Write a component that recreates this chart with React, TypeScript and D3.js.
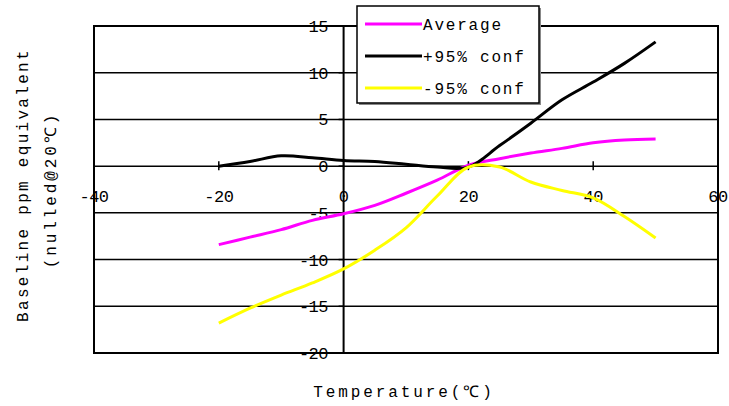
import React from 'react';
import * as d3 from 'd3';

const temps = [-20, -15, -10, -5, 0, 5, 10, 15, 20, 25, 30, 35, 40, 45, 50];
const average = [-8.4, -7.6, -6.8, -5.8, -5.1, -4.2, -2.9, -1.5, 0.1, 0.8, 1.4, 1.9, 2.5, 2.8, 2.9];
const upper95 = [0.0, 0.5, 1.1, 0.9, 0.6, 0.5, 0.2, -0.1, -0.1, 2.2, 4.6, 7.1, 9.0, 11.0, 13.3];
const lower95 = [-16.8, -15.2, -13.8, -12.5, -11.0, -9.0, -6.6, -3.2, -0.1, -0.1, -1.7, -2.6, -3.4, -5.4, -7.7];

const xTicks = [-40, -20, 0, 20, 40, 60];
const yTicks = [15, 10, 5, 0, -5, -10, -15, -20];

const seriesNames = ['Average', '+95% conf', '-95% conf'];
const seriesColors = ['#ff00ff', '#000000', '#ffff00'];

const W = 729;
const H = 406;
const FONT = '"Courier New", "Liberation Mono", "Nimbus Mono PS", monospace';

export default function App() {
  const x = d3.scaleLinear().domain([-40, 60]).range([94, 718]);
  const y = d3.scaleLinear().domain([-20, 15]).range([353, 26]);

  const line = d3
    .line<[number, number]>()
    .x((d) => x(d[0]))
    .y((d) => y(d[1]))
    .curve(d3.curveCatmullRom.alpha(0.5));

  const series = [average, upper95, lower95].map((vals) =>
    temps.map((t, i) => [t, vals[i]] as [number, number]),
  );

  return (
    <div style={{position: 'fixed', left: 0, top: 0}}>
      <svg width={W} height={H} style={{display: 'block', background: '#fff'}}>
        {/* plot frame */}
        <rect x={94} y={26} width={624} height={327} fill="#fff" stroke="#000" strokeWidth={2} />
        {/* tick labels go under the gridlines */}
        {yTicks.map((t) => (
          <text
            key={'yl' + t}
            x={328}
            y={y(t) + 6}
            textAnchor="end"
            fontFamily={FONT}
            fontSize={17}
            letterSpacing={-0.5}
            fill="#000">
            {t}
          </text>
        ))}
        {xTicks.map((t) => (
          <text
            key={'xl' + t}
            x={x(t)}
            y={202}
            textAnchor="middle"
            fontFamily={FONT}
            fontSize={17}
            letterSpacing={-0.5}
            fill="#000">
            {t}
          </text>
        ))}
        {yTicks.map((t) => (
          <line key={'g' + t} x1={94} x2={718} y1={y(t)} y2={y(t)} stroke="#000" strokeWidth={1.5} />
        ))}
        {/* y axis at x = 0 */}
        <line x1={x(0)} x2={x(0)} y1={26} y2={353} stroke="#000" strokeWidth={2} />
        {xTicks.map((t) => (
          <line key={'xt' + t} x1={x(t)} x2={x(t)} y1={y(0) - 5} y2={y(0) + 4} stroke="#000" strokeWidth={1.5} />
        ))}
        {yTicks.map((t) => (
          <line key={'yt' + t} x1={x(0) - 5} x2={x(0)} y1={y(t)} y2={y(t)} stroke="#000" strokeWidth={1.5} />
        ))}
        {/* series */}
        {series.map((s, i) => (
          <path key={'s' + i} d={line(s) || ''} fill="none" stroke={seriesColors[i]} strokeWidth={3} />
        ))}
        {/* legend */}
        <rect x={359} y={8} width={182} height={97} fill="#888" />
        <rect x={357} y={6} width={182} height={97} fill="#fff" stroke="#000" strokeWidth={1.5} />
        {seriesNames.map((n, i) => {
          const ly = 24 + i * 32;
          return (
            <g key={'lg' + i}>
              <line x1={365} x2={422} y1={ly} y2={ly} stroke={seriesColors[i]} strokeWidth={3} />
              <text x={423} y={ly + 6} fontFamily={FONT} fontSize={16} letterSpacing={1.8} fill="#000">
                {n}
              </text>
            </g>
          );
        })}
        {/* axis titles */}
        <text
          x={404}
          y={397}
          textAnchor="middle"
          fontFamily={FONT}
          fontSize={16}
          letterSpacing={2.9}
          fill="#000">
          Temperature(℃)
        </text>
        <text
          transform="translate(28,185) rotate(-90)"
          textAnchor="middle"
          fontFamily={FONT}
          fontSize={16}
          letterSpacing={2.3}
          fill="#000">
          Baseline ppm equivalent
        </text>
        <text
          transform="translate(56,190) rotate(-90)"
          textAnchor="middle"
          fontFamily={FONT}
          fontSize={16}
          letterSpacing={2.9}
          fill="#000">
          (nulled@20℃)
        </text>
      </svg>
    </div>
  );
}
